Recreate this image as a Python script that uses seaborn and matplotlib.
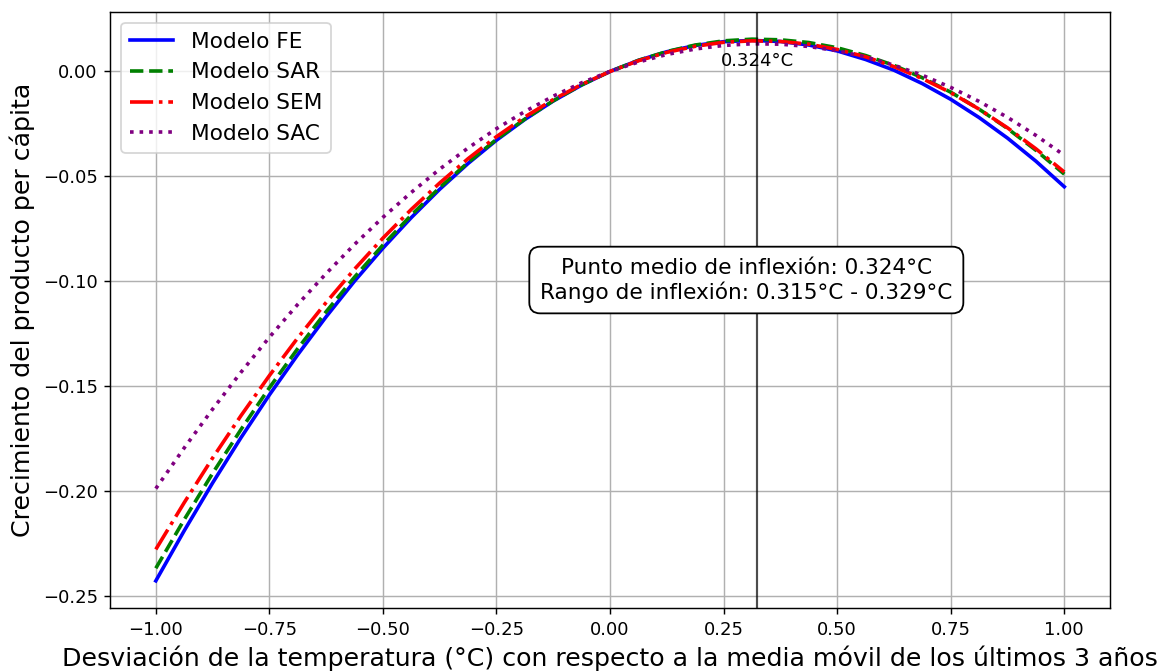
import pandas as pd
import matplotlib
matplotlib.use('Agg')
import matplotlib.pyplot as plt
import seaborn as sns

# Temperature deviation grid (°C) and growth values
temp_dev = [-1.0, -0.9375, -0.875, -0.8125, -0.75, -0.6875, -0.625, -0.5625,
            -0.5, -0.4375, -0.375, -0.3125, -0.25, -0.1875, -0.125, -0.0625,
            0.0, 0.0625, 0.125, 0.1875, 0.25, 0.3125, 0.375, 0.4375,
            0.5, 0.5625, 0.625, 0.6875, 0.75, 0.8125, 0.875, 0.9375, 1.0]

growth_fe = [-0.243, -0.2191, -0.1963, -0.1747, -0.1543, -0.1351, -0.1170, -0.1000,
             -0.0843, -0.0697, -0.0562, -0.0439, -0.0328, -0.0229, -0.0141, -0.0065,
             0.0, 0.0053, 0.0094, 0.0124, 0.0142, 0.0148, 0.0143, 0.0126,
             0.0098, 0.0057, 0.0006, -0.0058, -0.0133, -0.0220, -0.0318, -0.0428, -0.055]
growth_sar = [-0.237, -0.2138, -0.1917, -0.1708, -0.1509, -0.1322, -0.1146, -0.0981,
              -0.0828, -0.0685, -0.0554, -0.0434, -0.0324, -0.0227, -0.0140, -0.0064,
              0.0, 0.0053, 0.0095, 0.0126, 0.0146, 0.0154, 0.0151, 0.0138,
              0.0113, 0.0076, 0.0029, -0.0030, -0.0099, -0.0180, -0.0272, -0.0376, -0.049]
growth_sem = [-0.228, -0.2057, -0.1844, -0.1642, -0.1451, -0.1271, -0.1102, -0.0943,
              -0.0795, -0.0658, -0.0532, -0.0416, -0.0311, -0.0217, -0.0134, -0.0062,
              0.0, 0.0051, 0.0091, 0.0120, 0.0139, 0.0146, 0.0143, 0.0130,
              0.0105, 0.0070, 0.0023, -0.0034, -0.0101, -0.0180, -0.0269, -0.0369, -0.048]
growth_sac = [-0.199, -0.1796, -0.1611, -0.1435, -0.1268, -0.1111, -0.0964, -0.0825,
              -0.0696, -0.0577, -0.0466, -0.0365, -0.0273, -0.0191, -0.0118, -0.0054,
              0.0, 0.0045, 0.0081, 0.0107, 0.0124, 0.0132, 0.0130, 0.0119,
              0.0099, 0.0069, 0.0030, -0.0018, -0.0076, -0.0143, -0.0219, -0.0305, -0.040]

inflection_mid = 0.324
inflection_low = 0.315
inflection_high = 0.329

models = [
    ('Modelo FE', growth_fe, 'blue', '-'),
    ('Modelo SAR', growth_sar, 'green', '--'),
    ('Modelo SEM', growth_sem, 'red', '-.'),
    ('Modelo SAC', growth_sac, 'purple', ':'),
]

fig, ax = plt.subplots(figsize=(1162 / 130, 671 / 130), dpi=130)

for label, values, color, ls in models:
    df = pd.DataFrame({'x': temp_dev, 'y': values})
    sns.lineplot(data=df, x='x', y='y', ax=ax, color=color, linestyle=ls,
                 linewidth=2, label=label)

ax.axvline(inflection_mid, color='black', alpha=0.7, linewidth=1.2)
ax.text(inflection_mid, 0.0052, f'{inflection_mid:.3f}°C', ha='center', va='center', fontsize=10)

ax.text(0.3, -0.0995,
        f'Punto medio de inflexión: {inflection_mid:.3f}°C\n'
        f'Rango de inflexión: {inflection_low:.3f}°C - {inflection_high:.3f}°C',
        ha='center', va='center', fontsize=12,
        bbox=dict(boxstyle='round,pad=0.5', facecolor='white', edgecolor='black'))

ax.set_xlabel('Desviación de la temperatura (°C) con respecto a la media móvil de los últimos 3 años',
              fontsize=14)
ax.set_ylabel('Crecimiento del producto per cápita', fontsize=14)
ax.set_xticks([-1.0, -0.75, -0.5, -0.25, 0.0, 0.25, 0.5, 0.75, 1.0])
ax.grid(True)
ax.legend(loc='upper left', fontsize=12)

plt.subplots_adjust(left=0.095, right=0.955, top=0.982, bottom=0.094)
plt.savefig('out.png', dpi=130)
